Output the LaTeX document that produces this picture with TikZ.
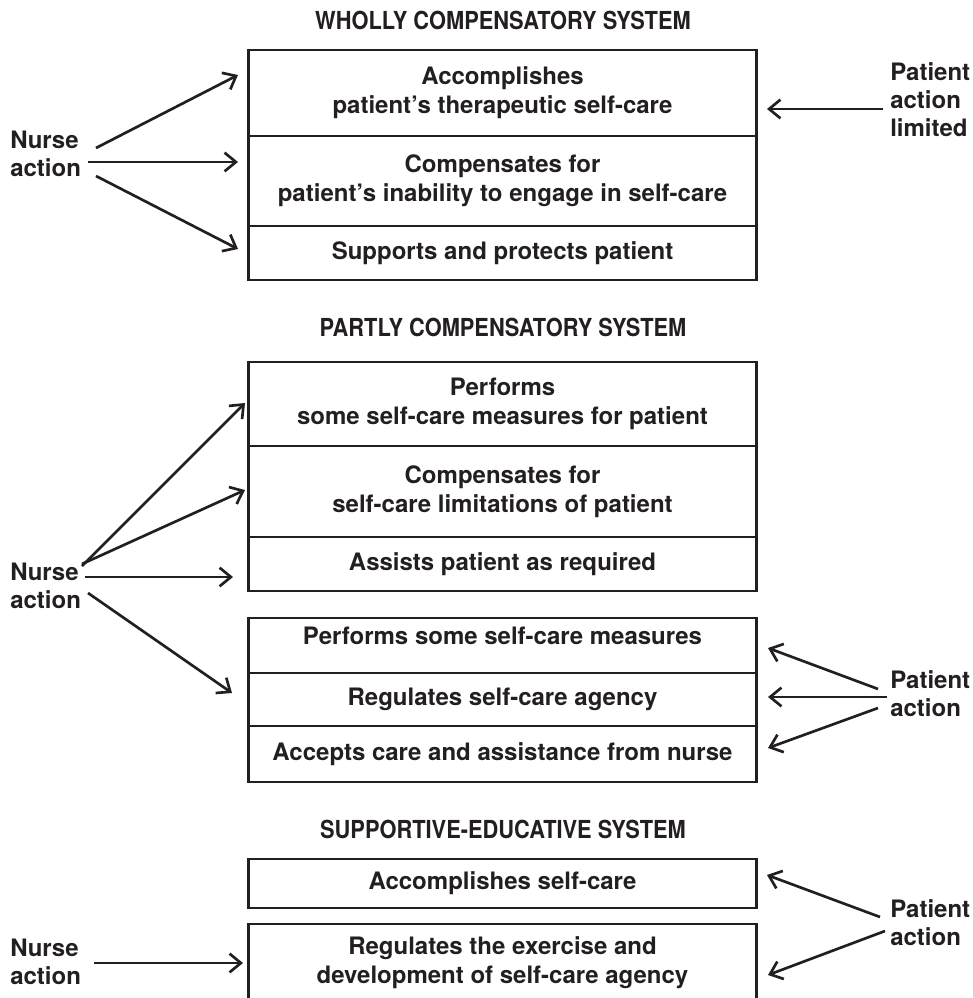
\documentclass[tikz,border=0pt]{standalone}
\usepackage{fontspec}
\setmainfont{TeX Gyre Heros}
\newfontfamily\titlefont[FakeStretch=0.88]{TeX Gyre Heros}
\usetikzlibrary{arrows.meta}

\definecolor{ink}{HTML}{231F20}

\tikzset{
  sysrow/.style={draw=ink, line width=1.9pt, minimum width=381pt, inner sep=0pt,
    align=center, text=ink, font=\fontsize{18}{22}\selectfont\bfseries},
  systitle/.style={text=ink, inner sep=0pt,
    font=\titlefont\fontsize{18.6}{21}\selectfont\bfseries},
  actor/.style={text=ink, inner sep=0pt, align=left, anchor=west,
    font=\fontsize{18}{21}\selectfont\bfseries},
  act/.style={draw=ink, line width=2pt,
    -{Straight Barb[length=8.5pt,width=14pt]}}
}

\begin{document}
\begin{tikzpicture}[x=0.75pt,y=-0.75pt]
\useasboundingbox (0,0) rectangle (972,998);

% ---------- wholly compensatory system ----------
\node[systitle] (t1) at (503,20) {WHOLLY COMPENSATORY SYSTEM};
\node[sysrow, minimum height=64.5pt] (w1) at (502.5,93)
  {Accomplishes\\patient’s therapeutic self-care};
\node[sysrow, minimum height=67.5pt] (w2) at (502.5,181)
  {Compensates for\\patient’s inability to engage in self-care};
\node[sysrow, minimum height=40.5pt] (w3) at (502.5,253)
  {Supports and protects patient};

\node[actor] (n1) at (10,154) {Nurse\\action};
\node[actor] (pa1) at (890,99.5) {Patient\\action\\limited};

\coordinate (n1a) at (96,148);  \coordinate (w1in) at (238,75);
\coordinate (n1b) at (88,162);  \coordinate (w2in) at (238,162);
\coordinate (n1c) at (96,176);  \coordinate (w3in) at (238,249);
\coordinate (pa1a) at (883,109); \coordinate (w1out) at (767,109);

\draw[act] (n1a) -- (w1in);
\draw[act] (n1b) -- (w2in);
\draw[act] (n1c) -- (w3in);
\draw[act] (pa1a) -- (w1out);

% ---------- partly compensatory system ----------
\node[systitle] (t2) at (503,327) {PARTLY COMPENSATORY SYSTEM};
\node[sysrow, minimum height=63pt] (p1) at (502.5,404)
  {Performs\\some self-care measures for patient};
\node[sysrow, minimum height=68.25pt] (p2) at (502.5,491.5)
  {Compensates for\\self-care limitations of patient};
\node[sysrow, minimum height=40.5pt] (p3) at (502.5,564)
  {Assists patient as required};

\node[sysrow, minimum height=41.25pt, text depth=15pt] (q1) at (502.5,645.5)
  {Performs some self-care measures};
\node[sysrow, minimum height=39.75pt] (q2) at (502.5,699.5)
  {Regulates self-care agency};
\node[sysrow, minimum height=42pt] (q3) at (502.5,754)
  {Accepts care and assistance from nurse};

\node[actor] (n2) at (10,586) {Nurse\\action};
\node[actor] (pa2) at (890,693.5) {Patient\\action};

\coordinate (n2a) at (82,566);  \coordinate (p1in) at (245,403);
\coordinate (n2b) at (82,564);  \coordinate (p2in) at (245,490);
\coordinate (n2c) at (85,577);  \coordinate (p3in) at (233,577);
\coordinate (n2d) at (88,593);  \coordinate (q2in) at (232,693);
\coordinate (pa2a) at (878,689); \coordinate (q1out) at (768,648);
\coordinate (pa2b) at (887,697); \coordinate (q2out) at (768,697);
\coordinate (pa2c) at (878,708); \coordinate (q3out) at (768,748);

\draw[act] (n2a) -- (p1in);
\draw[act] (n2b) -- (p2in);
\draw[act] (n2c) -- (p3in);
\draw[act] (n2d) -- (q2in);
\draw[act] (pa2a) -- (q1out);
\draw[act] (pa2b) -- (q2out);
\draw[act] (pa2c) -- (q3out);

% ---------- supportive-educative system ----------
\node[systitle] (t3) at (503,829) {SUPPORTIVE-EDUCATIVE SYSTEM};
\node[sysrow, minimum height=36.75pt] (s1) at (502.5,883.5)
  {Accomplishes self-care};
% the lower box runs past the bottom edge of the page
\node[sysrow, minimum height=58.5pt] (s2) at (502.5,963)
  {Regulates the exercise and\\development of self-care agency};

\node[actor] (n3) at (10,961.5) {Nurse\\action};
\node[actor] (pa3) at (890,922.5) {Patient\\action};

\coordinate (n3a) at (94,963);  \coordinate (s2in) at (243,963);
\coordinate (pa3a) at (880,917); \coordinate (s1out) at (767,875);
\coordinate (pa3b) at (885,931); \coordinate (s2out) at (768,975);

\draw[act] (n3a) -- (s2in);
\draw[act] (pa3a) -- (s1out);
\draw[act] (pa3b) -- (s2out);
\end{tikzpicture}
\end{document}
